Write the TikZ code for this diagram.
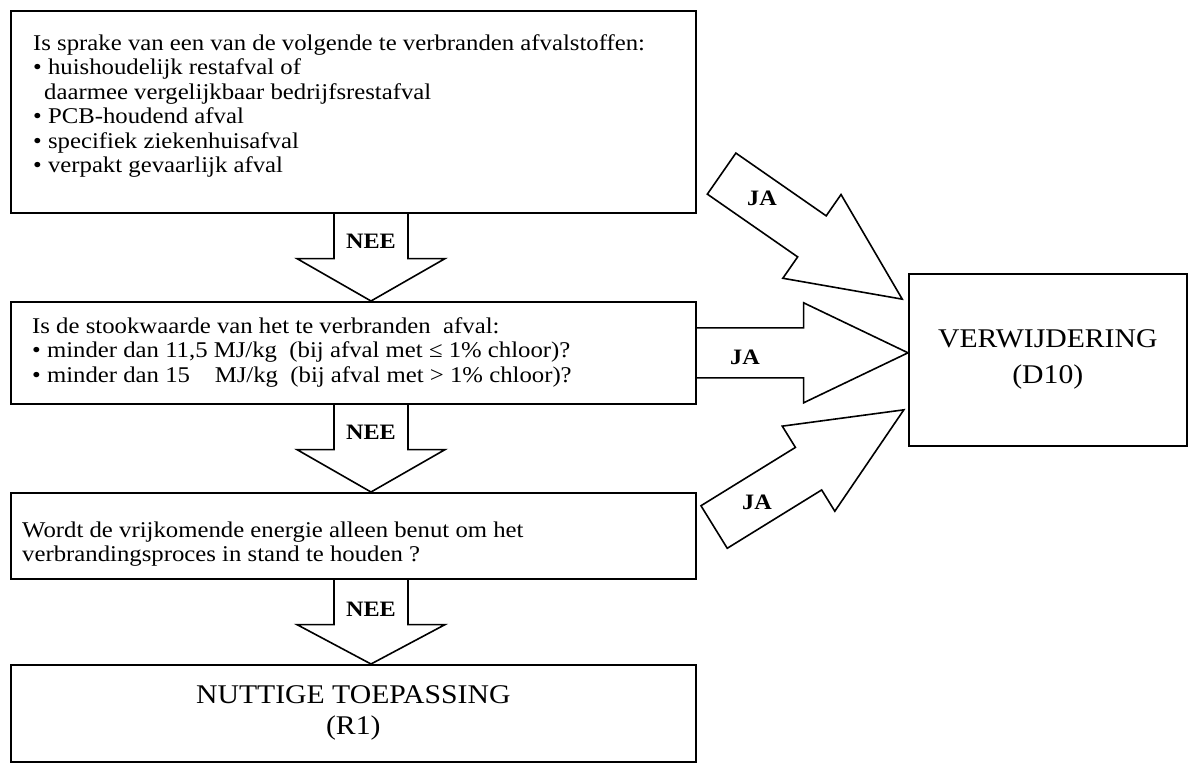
\documentclass[tikz,border=0pt]{standalone}
\usepackage{fontspec}
\setmainfont{Liberation Serif}[FakeStretch=1.1]
\usetikzlibrary{calc}
\begin{document}
\begin{tikzpicture}[x=1pt,y=-1pt,
  box/.style={draw, line width=1.6pt, inner sep=0pt, anchor=north west},
  blk/.style={draw, line width=1.6pt, line join=miter},
  txt/.style={anchor=base west, inner sep=0pt, font=\fontsize{22.5}{24.5}\selectfont},
  lbl/.style={inner sep=0pt, font=\fontsize{22}{24}\selectfont\bfseries},
  big/.style={align=center, font=\fontsize{27}{31}\selectfont}]
\fill[white] (0,0) rectangle (1190,764);
\useasboundingbox (0,0) rectangle (1190,764);

% boxes
\node[box, minimum width=685pt, minimum height=202pt] (b1) at (10,10) {};
\node[box, minimum width=685pt, minimum height=102pt] (b2) at (10,301) {};
\node[box, minimum width=685pt, minimum height=86pt] (b3) at (10,492) {};
\node[box, big, minimum width=685pt, minimum height=97pt] (b4) at (10,664) {NUTTIGE TOEPASSING\\(R1)};
\node[box, big, font=\fontsize{27}{36}\selectfont, minimum width=278pt, minimum height=172pt] (bD) at (908,273) {VERWIJDERING\\(D10)};

% texts box 1
\node[txt] (t11) at (33,50) {Is sprake van een van de volgende te verbranden afvalstoffen:};
\node[txt] (t12) at (33,74.5) {• huishoudelijk restafval of};
\node[txt] (t13) at (44,99) {daarmee vergelijkbaar bedrijfsrestafval};
\node[txt] (t14) at (33,123.5) {• PCB-houdend afval};
\node[txt] (t15) at (33,148) {• specifiek ziekenhuisafval};
\node[txt] (t16) at (33,172.5) {• verpakt gevaarlijk afval};

% texts box 2
\node[txt] (t21) at (32,333) {Is de stookwaarde van het te verbranden~ afval:};
\node[txt] (t22) at (32,357.5) {• minder dan 11,5 MJ/kg~ (bij afval met ≤ 1\% chloor)?};
\node[txt] (t23) at (32,382) {• minder dan 15\phantom{,5} MJ/kg~ (bij afval met > 1\% chloor)?};

% texts box 3
\node[txt] (t31) at (22,537) {Wordt de vrijkomende energie alleen benut om het};
\node[txt] (t32) at (22,561.5) {verbrandingsproces in stand te houden ?};

% NEE arrows
\coordinate (ax) at (371,0);
\draw[blk] (ax |- b1.south) ++(-37,0) -- ++(0,45) -- ++(-37,0) coordinate (h1)
  -- (ax |- b2.north) -- ($(h1)+(148,0)$) -- ++(-37,0) -- ++(0,-45);
\draw[blk] (ax |- b2.south) ++(-37,0) -- ++(0,45) -- ++(-37,0) coordinate (h2)
  -- (ax |- b3.north) -- ($(h2)+(148,0)$) -- ++(-37,0) -- ++(0,-45);
\draw[blk] (ax |- b3.south) ++(-37,0) -- ++(0,45) -- ++(-37,0) coordinate (h3)
  -- (ax |- b4.north) -- ($(h3)+(148,0)$) -- ++(-37,0) -- ++(0,-45);
\node[lbl] (nee1) at ($(ax |- b1.south)+(0,28)$) {NEE};
\node[lbl] (nee2) at ($(ax |- b2.south)+(0,28)$) {NEE};
\node[lbl] (nee3) at ($(ax |- b3.south)+(0,30)$) {NEE};

% JA arrows
\coordinate (ja1) at ($(b1.south east)+(25,-40)$);
\coordinate (ja3) at ($(b3.north east)+(17.5,35)$);
\draw[blk, shift={(ja1)}, rotate=-34.8] (0,-25) -- (110,-25) -- (110,-51) -- (220,0)
  -- (110,51) -- (110,25) -- (0,25) -- cycle;
\draw[blk] ($(b2.east)+(0,-25)$) -- ++(107,0) -- ++(0,-25) -- (bD.west |- b2.east)
  -- ($(b2.east)+(107,50)$) -- ++(0,-25) -- ++(-107,0);
\draw[blk, shift={(ja3)}, rotate=31.7] (0,-25) -- (111,-25) -- (111,-50) -- (223,0)
  -- (111,50) -- (111,25) -- (0,25) -- cycle;
\node[lbl] (jaA) at (762,198) {JA};
\node[lbl] (jaB) at (745,357) {JA};
\node[lbl] (jaC) at (757,502) {JA};
\end{tikzpicture}
\end{document}
